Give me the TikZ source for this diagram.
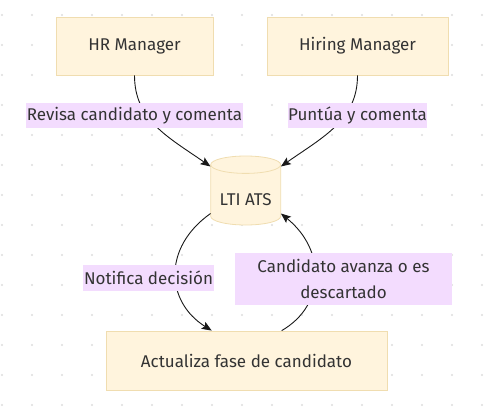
\documentclass[tikz,border=0pt]{standalone}
\usepackage{fontspec}
\setmainfont{Fira Sans}
\usetikzlibrary{arrows.meta,calc}
\definecolor{nodefill}{HTML}{FFF4DD}
\definecolor{nodeborder}{HTML}{F0DDB0}
\definecolor{labelfill}{HTML}{F3DCFE}
\definecolor{txt}{HTML}{333333}
\definecolor{dotc}{HTML}{DDDDDD}
\tikzset{
  box/.style={draw=nodeborder, fill=nodefill, line width=0.8pt, inner sep=0pt, text=txt,
    font=\fontsize{17}{20}\selectfont},
  elabel/.style={fill=labelfill, inner sep=0pt, text=txt, font=\fontsize{17}{25.5}\selectfont, align=center},
  edge/.style={draw=black!90, line width=0.9pt, -{Stealth[length=10pt,width=8pt,inset=2pt]}},
}
\begin{document}
\begin{tikzpicture}[x=1pt,y=-1pt]
\useasboundingbox (0,0) rectangle (495,415);
% dot grid
\foreach \i in {0,...,16}{
  \foreach \j in {0,...,13}{
    \fill[dotc] ({2+30*\i},{15+30*\j}) circle[radius=1.2pt];
  }
}
% nodes
\node[box, minimum width=157pt, minimum height=58pt] (hr) at (134.5,46) {HR Manager};
\node[box, minimum width=181pt, minimum height=58pt] (hm) at (357.5,46) {Hiring Manager};
\node[box, minimum width=281pt, minimum height=59pt] (act) at (246.5,360.5) {Actualiza fase de candidato};
% cylinder
\node[inner sep=0pt, minimum width=70pt, minimum height=69pt] (ats) at (245.7,190.5) {};
\path[fill=nodefill, draw=nodeborder, line width=0.8pt]
  (210.7,216.3) arc[start angle=180, end angle=360, x radius=35pt, y radius=8.7pt]
  -- (280.7,164.7) arc[start angle=0, end angle=180, x radius=35pt, y radius=8.7pt] -- cycle;
\draw[nodeborder, line width=0.8pt] (210.7,164.7) arc[start angle=180, end angle=360, x radius=35pt, y radius=8.7pt];
\node[text=txt, font=\fontsize{17}{20}\selectfont] at (245.7,200) {LTI ATS};
% edges
\draw[edge] (hr.south) .. controls (134.5,120) and (168,137) .. ($(ats.north west)+(0,10.7)$);
\draw[edge] (hm.south) .. controls (357.5,120) and (323,137) .. ($(ats.north east)+(0,10.7)$);
\draw[edge] ($(ats.south west)+(0,-11.7)$) .. controls (162,248) and (166,302) .. ($(act.north)+(-34.8,0)$);
\draw[edge] ($(act.north)+(35.2,0)$) .. controls (326,305) and (326,250) .. ($(ats.south east)+(0,-11.7)$);
% edge labels
\node[elabel, minimum width=217pt, minimum height=25pt] (l1) at (134.5,115.5) {Revisa candidato y comenta};
\node[elabel, minimum width=139pt, minimum height=25pt] (l2) at (357.5,115.5) {Puntúa y comenta};
\node[elabel, minimum width=131pt, minimum height=26pt] (l3) at (148.5,278) {Notifica decisión};
\node[elabel, minimum width=217pt, minimum height=52pt] (l4) at (343.5,279) {Candidato avanza o es\\descartado};
\end{tikzpicture}
\end{document}
